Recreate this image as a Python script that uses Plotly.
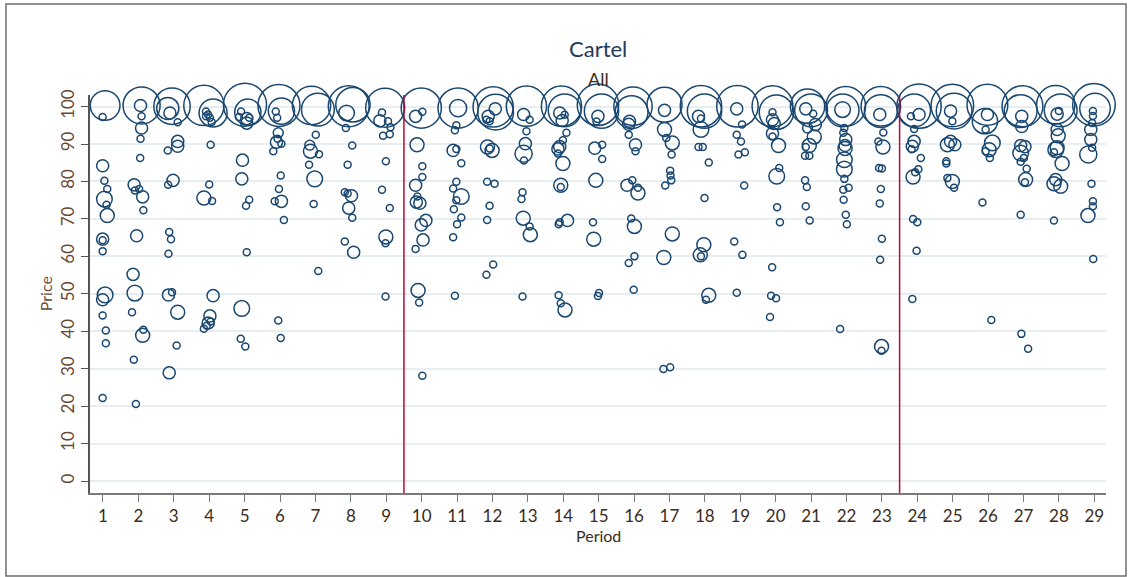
import plotly.graph_objects as go

# ---- data (period with jitter, price, bubble weight) ----
period_x = [
    # 1
    1.06, 0.99, 0.99, 1.04, 1.12, 1.04, 1.10, 1.12, 0.99, 0.99, 0.99, 1.06, 0.99, 0.99, 1.08, 1.08, 0.99,
    # 2
    2.09, 2.06, 2.09, 2.09, 2.06, 2.05, 1.88, 1.90, 2.02, 2.12, 2.14, 1.95, 1.85, 1.90, 1.82, 2.14, 2.12, 1.87, 1.93,
    # 3
    2.95, 2.89, 2.83, 3.11, 3.11, 3.11, 2.83, 2.98, 2.84, 2.87, 2.92, 2.85, 2.85, 2.95, 3.11, 3.08, 2.87,
    # 4
    3.85, 4.11, 3.91, 3.97, 3.91, 4.02, 4.07, 4.04, 4.00, 3.85, 4.08, 4.11, 4.02, 3.97, 4.04, 3.85, 3.93,
    # 5
    5.01, 5.09, 4.90, 5.06, 5.06, 4.84, 5.13, 4.94, 4.92, 5.13, 5.04, 5.06, 4.92, 4.89, 5.02,
    # 6
    5.97, 6.04, 5.88, 5.92, 5.95, 5.93, 5.90, 6.04, 5.81, 6.02, 5.97, 6.04, 5.85, 6.11, 5.95, 6.02,
    # 7
    6.89, 7.07, 7.01, 6.84, 6.86, 7.10, 6.82, 6.98, 6.95, 7.08,
    # 8
    7.94, 8.06, 7.88, 7.86, 8.04, 7.91, 7.83, 7.91, 8.02, 7.94, 8.04, 7.83, 8.08,
    # 9
    8.97, 8.88, 8.82, 9.05, 9.12, 8.91, 9.10, 8.99, 8.88, 9.10, 8.99, 8.98, 8.98,
    # 10
    9.99, 9.83, 10.02, 9.87, 10.02, 10.02, 9.83, 9.85, 9.95, 9.88, 10.12, 9.99, 10.04, 9.83, 9.90, 9.93, 10.02,
    # 11
    11.03, 11.03, 10.94, 10.98, 10.89, 10.98, 11.12, 10.98, 10.89, 11.12, 10.98, 10.91, 11.12, 11.00, 10.89, 10.94,
    # 12
    12.02, 12.09, 12.08, 11.88, 11.92, 11.83, 11.86, 11.99, 11.92, 11.85, 12.06, 11.92, 11.85, 12.02, 11.83,
    # 13
    12.96, 12.88, 13.05, 12.96, 12.93, 12.88, 12.89, 12.85, 12.82, 12.87, 13.05, 13.07, 12.85,
    # 14
    13.95, 14.04, 13.90, 14.04, 13.97, 14.09, 13.99, 13.85, 13.90, 13.85, 13.99, 13.93, 13.93, 13.90, 13.87,
    14.12, 13.87, 13.93, 14.05,
    # 15
    14.98, 15.08, 14.98, 14.94, 14.89, 15.10, 15.10, 14.92, 14.84, 14.86, 15.01, 14.98,
    # 16
    15.97, 15.93, 15.87, 15.85, 15.85, 16.04, 16.04, 15.95, 15.80, 16.11, 16.11, 15.92, 16.01, 16.01, 15.85, 15.99,
    # 17
    16.86, 16.86, 16.86, 16.91, 17.08, 17.06, 17.02, 17.03, 17.05, 16.88, 17.08, 16.84, 16.83, 17.02,
    # 18
    17.89, 17.99, 17.82, 17.89, 17.89, 17.82, 17.94, 18.11, 17.99, 17.97, 17.87, 17.89, 18.11, 18.03,
    # 19
    18.92, 18.90, 19.05, 18.90, 19.02, 18.95, 19.13, 19.11, 18.83, 19.06, 18.90,
    # 20
    19.91, 20.02, 19.91, 19.91, 19.96, 19.91, 19.91, 20.08, 20.10, 20.03, 20.04, 20.12, 19.90, 19.87, 20.01, 19.84,
    # 21
    20.90, 21.00, 20.85, 21.06, 20.90, 21.12, 21.09, 20.95, 20.85, 20.83, 20.95, 20.83, 20.88, 20.85, 20.96,
    # 22
    21.98, 21.89, 21.89, 21.94, 21.91, 21.98, 21.96, 21.96, 21.94, 21.94, 21.94, 21.91, 22.06, 21.92, 21.98,
    22.01, 21.82,
    # 23
    22.97, 22.97, 22.94, 23.04, 22.90, 23.03, 22.92, 23.00, 22.97, 22.94, 23.00, 22.95, 22.99, 22.99,
    # 24
    24.05, 23.91, 24.05, 23.82, 23.91, 23.91, 23.86, 23.84, 24.10, 24.03, 23.88, 23.94, 23.88, 24.00, 23.98, 23.86,
    # 25
    24.99, 25.04, 24.94, 24.99, 24.85, 24.94, 25.06, 24.82, 24.82, 24.85, 24.99, 25.04,
    # 26
    25.98, 25.91, 25.98, 25.93, 26.12, 26.03, 25.93, 26.05, 25.84, 26.09,
    # 27
    26.97, 26.92, 26.95, 26.95, 26.92, 27.04, 26.92, 27.01, 26.92, 27.09, 27.06, 27.04, 26.92, 26.94, 27.13,
    # 28
    27.91, 28.05, 27.95, 28.00, 27.95, 27.98, 27.91, 27.95, 27.86, 28.09, 27.91, 27.86, 28.05, 27.86,
    # 29
    28.99, 29.02, 28.96, 28.96, 28.94, 28.90, 28.90, 28.94, 28.83, 28.92, 28.96, 28.96, 28.82, 28.97,
]

price = [
    # 1
    100.3, 97.2, 84.2, 80.2, 78.0, 75.3, 73.8, 70.9, 64.6, 64.3, 61.4, 49.7, 48.4, 44.2, 40.2, 36.8, 22.2,
    # 2
    100.3, 100.3, 97.4, 94.3, 91.4, 86.3, 79.1, 77.6, 78.0, 75.9, 72.3, 65.5, 55.2, 50.2, 45.1, 40.4, 38.9, 32.4, 20.6,
    # 3
    100.1, 98.3, 99.5, 95.8, 90.7, 89.4, 88.3, 80.3, 79.1, 66.5, 64.6, 60.7, 49.7, 50.4, 45.1, 36.2, 28.9,
    # 4
    100.3, 98.3, 98.7, 97.9, 97.4, 97.0, 95.9, 89.8, 79.2, 75.6, 74.8, 49.5, 44.1, 42.2, 42.6, 40.7, 41.5,
    # 5
    100.5, 98.5, 98.7, 96.8, 95.6, 97.2, 97.0, 85.7, 80.7, 75.1, 73.5, 61.1, 46.1, 38.0, 35.9,
    # 6
    100.3, 98.8, 98.7, 97.0, 93.0, 91.4, 90.5, 90.1, 88.1, 81.6, 78.0, 74.7, 74.7, 69.7, 42.9, 38.2,
    # 7
    100.3, 99.2, 92.5, 89.7, 88.1, 87.3, 84.5, 80.7, 74.0, 56.1,
    # 8
    100.1, 100.5, 98.3, 94.3, 89.6, 84.5, 77.1, 76.8, 76.2, 72.9, 70.3, 64.0, 61.1,
    # 9
    99.7, 98.4, 96.2, 96.1, 94.5, 92.2, 92.6, 85.4, 77.8, 72.9, 65.2, 63.5, 49.3,
    # 10
    99.6, 97.4, 98.6, 89.8, 84.1, 81.2, 79.0, 74.5, 74.2, 76.0, 69.6, 68.4, 64.4, 62.0, 50.9, 47.7, 28.1,
    # 11
    99.6, 99.6, 93.7, 95.0, 88.3, 88.7, 84.9, 79.9, 78.1, 76.0, 75.0, 72.6, 70.4, 68.6, 65.1, 49.5,
    # 12
    99.9, 98.5, 99.4, 97.4, 96.1, 96.5, 89.2, 88.3, 88.8, 79.9, 79.4, 73.5, 69.7, 57.8, 55.1,
    # 13
    100.1, 97.9, 96.5, 93.4, 90.1, 87.4, 85.6, 77.1, 75.3, 70.2, 68.0, 65.8, 49.3,
    # 14
    100.1, 99.0, 98.3, 97.8, 96.3, 93.0, 91.0, 88.7, 89.3, 87.5, 84.8, 79.0, 78.5, 69.1, 68.6,
    69.6, 49.6, 47.5, 45.7,
    # 15
    100.5, 98.8, 97.4, 96.0, 88.9, 89.8, 86.0, 80.3, 69.1, 64.6, 50.2, 49.4,
    # 16
    100.1, 98.5, 96.1, 95.3, 92.5, 89.8, 88.1, 80.3, 79.0, 78.3, 76.9, 70.1, 68.0, 60.0, 58.2, 51.1,
    # 17
    100.5, 99.0, 93.9, 91.6, 90.3, 87.2, 82.9, 81.6, 80.3, 78.9, 66.0, 59.7, 29.9, 30.4,
    # 18
    100.1, 98.8, 97.4, 96.8, 93.9, 89.2, 89.2, 85.1, 75.6, 63.1, 60.4, 60.0, 49.6, 48.4,
    # 19
    100.1, 99.4, 95.2, 92.5, 90.7, 87.2, 87.8, 78.9, 64.0, 60.4, 50.3,
    # 20
    100.1, 98.5, 98.5, 96.5, 95.5, 92.8, 92.0, 89.6, 83.6, 81.4, 73.1, 69.1, 57.1, 49.5, 48.8, 43.8,
    # 21
    100.1, 99.0, 99.4, 98.1, 94.3, 95.2, 91.9, 89.6, 89.2, 86.9, 86.9, 80.3, 78.5, 73.4, 69.6,
    # 22
    100.1, 99.0, 99.2, 94.3, 93.0, 91.2, 89.6, 88.8, 85.8, 83.3, 80.7, 77.8, 78.3, 75.1, 71.1,
    68.6, 40.6,
    # 23
    100.1, 98.8, 97.9, 93.1, 90.7, 89.2, 83.6, 83.5, 78.0, 74.1, 64.7, 59.1, 35.9, 34.8,
    # 24
    100.1, 99.0, 97.9, 97.4, 94.0, 90.7, 89.4, 88.6, 86.3, 83.3, 81.2, 82.5, 70.0, 69.1, 61.5, 48.6,
    # 25
    100.3, 98.8, 98.8, 96.1, 89.8, 90.7, 89.8, 85.4, 84.8, 80.9, 80.0, 78.3,
    # 26
    100.5, 96.1, 97.9, 93.9, 90.3, 88.5, 88.1, 86.3, 74.4, 43.0,
    # 27
    100.1, 98.8, 97.4, 94.7, 89.6, 89.3, 87.6, 86.3, 85.3, 83.4, 80.5, 79.8, 71.1, 39.3, 35.3,
    # 28
    100.5, 99.0, 98.0, 98.8, 93.9, 92.2, 88.5, 89.0, 87.8, 84.8, 80.5, 79.4, 78.7, 69.6,
    # 29
    100.5, 99.5, 98.8, 97.5, 95.6, 93.9, 91.2, 89.0, 87.2, 79.4, 74.7, 73.4, 70.9, 59.3,
]

weight = [
    # 1
    18, 1, 3, 1, 1, 5, 1, 4, 3, 1, 1, 5, 3, 1, 1, 1, 1,
    # 2
    28, 3, 1, 3, 1, 1, 3, 1, 1, 3, 1, 3, 3, 5, 1, 1, 4, 1, 1,
    # 3
    27, 3, 10, 1, 3, 3, 1, 3, 1, 1, 1, 1, 3, 1, 4, 1, 3,
    # 4
    33, 16, 1, 1, 1, 1, 1, 1, 1, 4, 1, 3, 3, 3, 1, 1, 1,
    # 5
    38, 14, 1, 3, 3, 1, 1, 3, 3, 1, 1, 1, 5, 1, 1,
    # 6
    36, 14, 1, 1, 2, 1, 3, 1, 1, 1, 1, 3, 1, 1, 1, 1,
    # 7
    30, 22, 1, 2, 4, 1, 1, 5, 1, 1,
    # 8
    34, 24, 5, 1, 1, 1, 1, 1, 3, 3, 1, 1, 3,
    # 9
    31, 1, 3, 1, 1, 1, 1, 1, 1, 1, 4, 1, 1,
    # 10
    33, 3, 1, 4, 1, 1, 3, 3, 3, 1, 3, 3, 3, 1, 4, 1, 1,
    # 11
    33, 6, 1, 1, 3, 1, 1, 1, 1, 5, 1, 1, 1, 1, 1, 1,
    # 12
    33, 26, 3, 3, 1, 1, 4, 4, 1, 1, 1, 1, 1, 1, 1,
    # 13
    33, 3, 1, 1, 3, 6, 1, 1, 1, 4, 1, 4, 1,
    # 14
    33, 22, 3, 1, 3, 1, 1, 3, 3, 1, 4, 4, 1, 1, 1,
    3, 1, 1, 4,
    # 15
    35, 24, 3, 1, 3, 1, 1, 4, 1, 4, 1, 1,
    # 16
    30, 22, 3, 3, 1, 3, 1, 1, 3, 1, 4, 1, 4, 1, 1, 1,
    # 17
    25, 3, 4, 1, 4, 1, 1, 1, 1, 1, 4, 4, 1, 1,
    # 18
    35, 24, 3, 1, 5, 1, 1, 1, 1, 4, 4, 1, 4, 1,
    # 19
    35, 3, 1, 1, 1, 1, 1, 1, 1, 1, 1,
    # 20
    34, 24, 1, 3, 3, 3, 1, 4, 1, 5, 1, 1, 1, 1, 1, 1,
    # 21
    24, 22, 3, 1, 2, 3, 4, 4, 1, 1, 1, 1, 1, 1, 1,
    # 22
    32, 22, 5, 1, 1, 3, 3, 4, 5, 5, 1, 1, 1, 1, 1,
    1, 1,
    # 23
    32, 22, 3, 1, 1, 4, 1, 1, 1, 1, 1, 1, 4, 1,
    # 24
    40, 22, 3, 1, 1, 3, 3, 1, 1, 1, 4, 1, 1, 1, 1, 1,
    # 25
    37, 26, 3, 1, 4, 3, 3, 1, 1, 1, 4, 1,
    # 26
    34, 13, 3, 1, 5, 4, 1, 1, 1, 1,
    # 27
    34, 22, 3, 3, 3, 3, 5, 1, 1, 1, 4, 1, 1, 1, 1,
    # 28
    30, 22, 3, 1, 3, 4, 5, 4, 1, 4, 3, 4, 4, 1,
    # 29
    37, 19, 1, 1, 1, 3, 3, 1, 6, 1, 1, 1, 4, 1,
]

x_ticks = list(range(1, 30))
y_ticks = list(range(0, 101, 10))
break_periods = [9.5, 23.5]

NAVY = "#1a476f"
RED = "#c10534"
GRID = "#e6eef1"
LABEL = "#3a2c20"

fig = go.Figure()
fig.add_trace(go.Scatter(
    x=period_x, y=price, mode="markers", cliponaxis=False,
    marker=dict(size=weight, sizemode="area", sizeref=2 / 49, sizemin=2, opacity=1,
                color="rgba(0,0,0,0)", symbol="circle",
                line=dict(color=NAVY, width=1.5)),
    hoverinfo="skip", showlegend=False,
))

for b in break_periods:
    fig.add_shape(type="line", xref="x", yref="paper", x0=b, x1=b, y0=0, y1=1,
                  line=dict(color=RED, width=1.5), layer="above")

# outer frame
fig.add_shape(type="rect", xref="paper", yref="paper",
              x0=-0.0827, x1=1.0197, y0=-0.2085, y1=1.2286,
              line=dict(color="#6e6e6e", width=1.5), fillcolor="rgba(0,0,0,0)", layer="below")

FONT = "Lato"
fig.add_annotation(text="Cartel", xref="paper", yref="paper", x=0.5, y=1.118,
                   showarrow=False, font=dict(family=FONT, size=22, color="#243a5a"),
                   xanchor="center", yanchor="middle")
fig.add_annotation(text="All", xref="paper", yref="paper", x=0.5, y=1.040,
                   showarrow=False, font=dict(family=FONT, size=18, color="#3a2c20"),
                   xanchor="center", yanchor="middle")
fig.add_annotation(text="Price", xref="paper", yref="paper", x=-0.0443, y=0.502,
                   showarrow=False, textangle=-90, font=dict(family=FONT, size=16, color="#6a4a34"),
                   xanchor="center", yanchor="middle")
fig.add_annotation(text="Period", xref="paper", yref="paper", x=0.5, y=-0.108,
                   showarrow=False, font=dict(family=FONT, size=16, color=LABEL),
                   xanchor="center", yanchor="middle")

fig.update_layout(
    width=1132, height=577,
    margin=dict(l=90, r=26, t=95, b=84),
    paper_bgcolor="white", plot_bgcolor="white",
    font=dict(family=FONT, size=16, color=LABEL),
    xaxis=dict(range=[0.633, 29.33], tickmode="array", tickvals=x_ticks,
               ticktext=[str(t) for t in x_ticks],
               showgrid=False, zeroline=False, showline=True, linecolor="#7a7a7a", linewidth=1.5,
               ticks="outside", ticklen=7, tickcolor="#7a7a7a", tickwidth=1.2,
               tickfont=dict(family=FONT, size=17, color="#3a2c20")),
    yaxis=dict(range=[-3.2, 103.1], tickmode="array", tickvals=y_ticks,
               ticktext=[str(t) for t in y_ticks], tickangle=-90,
               showgrid=True, gridcolor=GRID, gridwidth=1.5, zeroline=False,
               showline=True, linecolor="#555555", linewidth=1.5,
               ticks="outside", ticklen=7, tickcolor="#555555", tickwidth=1.2,
               tickfont=dict(family=FONT, size=17, color="#6a4a34")),
)

fig.write_html("out.html", config={"displayModeBar": False},
               post_script="document.body.style.margin='0';")
